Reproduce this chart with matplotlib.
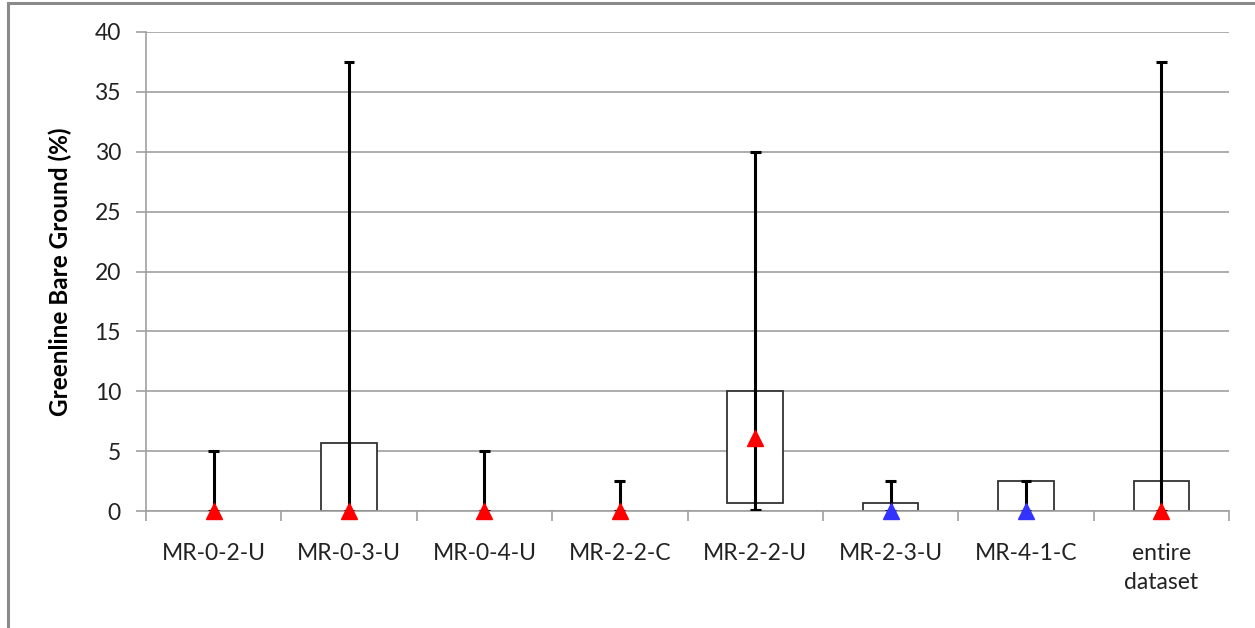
import matplotlib
matplotlib.use("Agg")
import matplotlib.pyplot as plt
from matplotlib.patches import Rectangle
from matplotlib.ticker import FixedLocator

categories = ["MR-0-2-U", "MR-0-3-U", "MR-0-4-U", "MR-2-2-C",
              "MR-2-2-U", "MR-2-3-U", "MR-4-1-C", "entire\ndataset"]
min_vals = [0, 0, 0, 0, 0.1, 0, 0, 0]
max_vals = [5, 37.5, 5, 2.5, 30, 2.5, 2.5, 37.5]
q1_vals = [0, 0, 0, 0, 0.7, 0, 0, 0]
q3_vals = [0, 5.7, 0, 0, 10, 0.7, 2.5, 2.5]
median_vals = [0, 0, 0, 0, 6.1, 0, 0, 0]
median_colors = ["#FF0000", "#FF0000", "#FF0000", "#FF0000",
                 "#FF0000", "#3333FF", "#3333FF", "#FF0000"]
yticks = [0, 5, 10, 15, 20, 25, 30, 35, 40]

plt.rcParams['font.family'] = ['Lato', 'DejaVu Sans']

W, H = 1255, 628
fig = plt.figure(figsize=(W / 100, H / 100), dpi=100)
ax = fig.add_axes([146 / W, (H - 511) / H, (1229 - 146) / W, (511 - 32) / H])

# outer border (gray)
fig.patches.append(Rectangle((8 / W, -0.1), 1.2, (H - 3) / H + 0.1,
                             transform=fig.transFigure, fill=False,
                             edgecolor="#8a8a8a", linewidth=2.2, zorder=0))

x = list(range(len(categories)))
heights = [q3 - q1 for q1, q3 in zip(q1_vals, q3_vals)]
box_lw = [1.3 if h > 0 else 0 for h in heights]
ax.bar(x, heights, bottom=q1_vals, width=0.41, facecolor="white",
       edgecolor="#333333", linewidth=box_lw, zorder=2)
ax.vlines(x, min_vals, max_vals, color="black", linewidth=2.2, zorder=3)
cap = 0.04
ax.hlines(max_vals, [i - cap for i in x], [i + cap for i in x],
          color="black", linewidth=2.2, zorder=3)
ax.hlines(min_vals, [i - cap for i in x], [i + cap for i in x],
          color="black", linewidth=2.2, zorder=3)
for xi, m, c in zip(x, median_vals, median_colors):
    ax.plot(xi, m, marker="^", color=c, markersize=12, linestyle="none",
            zorder=4, clip_on=False)

ax.set_xlim(-0.5, len(categories) - 0.5)
ax.set_ylim(0, 40)
ax.set_yticks(yticks)
ax.yaxis.grid(True, color="#a0a0a0", linewidth=1.2, zorder=0)
ax.set_axisbelow(True)

for s in ["top", "right"]:
    ax.spines[s].set_visible(False)
ax.spines["left"].set_color("#a0a0a0")
ax.spines["bottom"].set_color("#a0a0a0")
ax.spines["left"].set_linewidth(1.2)
ax.spines["bottom"].set_linewidth(1.2)

ax.set_xticks(x)
ax.set_xticklabels(categories, fontsize=16.5, color="#222222", linespacing=1.45)
ax.xaxis.set_minor_locator(FixedLocator([i - 0.5 for i in range(len(categories) + 1)]))
ax.tick_params(axis="x", which="major", length=0, pad=23)
ax.tick_params(axis="x", which="minor", length=7, width=1.2, color="#a0a0a0")
ax.tick_params(axis="y", length=7, width=1.2, color="#a0a0a0", pad=11,
               labelsize=16.5, labelcolor="#222222")

fig.text(60 / W, 1 - 272 / H, "Greenline Bare Ground (%)", rotation=90,
         ha="center", va="center", fontsize=17.5, fontweight="bold",
         color="black")

fig.savefig("out.png", dpi=100)
